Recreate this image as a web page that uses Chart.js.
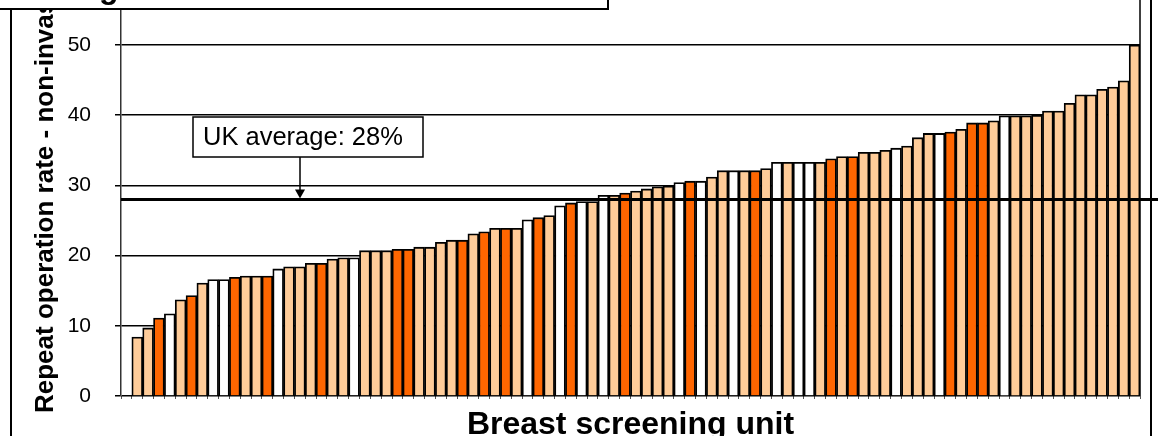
<!DOCTYPE html>
<html>
<head>
<meta charset="utf-8">
<script src="https://cdn.jsdelivr.net/npm/chart.js@4"></script>
<style>
  html, body { margin: 0; padding: 0; background: #fff; overflow: hidden; }
  #wrap { width: 1158px; height: 436px; position: relative; }
</style>
</head>
<body>
<div id="wrap"><canvas id="chart" width="1158" height="436"></canvas></div>
<script>
// Repeat operation rate (%) per breast screening unit, sorted ascending.
// The first category slot is empty in the source chart.
const units = ['', ...Array.from({ length: 93 }, (_, i) => 'Unit ' + (i + 1))];
const rates = [null,
  8.4, 9.7, 11.1, 11.7, 13.7, 14.3, 16.1, 16.6, 16.6, 16.9,
  17.1, 17.1, 17.1, 18.1, 18.4, 18.4, 18.9, 18.9, 19.5, 19.7,
  19.7, 20.7, 20.7, 20.7, 20.9, 20.9, 21.2, 21.2, 21.9, 22.2,
  22.2, 23.1, 23.4, 23.9, 23.9, 23.9, 25.1, 25.4, 25.7, 27.1,
  27.5, 27.7, 27.7, 28.6, 28.6, 28.9, 29.2, 29.5, 29.8, 29.9,
  30.4, 30.6, 30.6, 31.2, 32.1, 32.1, 32.1, 32.1, 32.4, 33.3,
  33.3, 33.3, 33.3, 33.3, 33.8, 34.1, 34.1, 34.7, 34.7, 35.0,
  35.3, 35.6, 36.8, 37.4, 37.4, 37.6, 38.0, 38.9, 38.9, 39.2,
  39.9, 39.9, 39.9, 40.0, 40.6, 40.6, 41.7, 42.9, 42.9, 43.7,
  44.0, 44.9, 50.0];
// L = light, D = dark, W = white shading of each unit's bar
const unitType = ['',
  'L','L','D','W','L','D','L','W','W','D',
  'L','L','D','W','L','L','L','D','L','L',
  'W','L','L','L','D','D','L','L','L','L',
  'D','L','D','L','D','L','W','D','L','W',
  'D','W','L','W','L','D','L','L','L','L',
  'W','D','W','L','L','W','L','D','L','W',
  'L','W','W','L','D','L','D','L','L','L',
  'W','L','L','L','W','D','L','D','D','L',
  'W','L','L','L','L','L','L','L','L','L',
  'L','L','L'];
const yTicks = [0, 10, 20, 30, 40, 50];
const ukAverage = 28;
const ukLabel = 'UK average: 28%';
const yTitle = 'Repeat operation rate - non-invasive';
const xTitle = 'Breast screening unit';

const colours = { L: '#FFCC99', D: '#FF6600', W: '#FFFFFF', '': 'rgba(0,0,0,0)' };
const FONT = '"Liberation Sans", Arial, sans-serif';

const overlay = {
  id: 'overlay',
  afterDraw(chart) {
    const { ctx, chartArea, scales } = chart;
    const yAvg = scales.y.getPixelForValue(ukAverage);
    ctx.save();

    // frame lines
    ctx.strokeStyle = '#000';
    ctx.lineWidth = 2;
    ctx.beginPath();
    ctx.moveTo(11, 9); ctx.lineTo(11, 436);
    ctx.moveTo(1151, 0); ctx.lineTo(1151, 436);
    ctx.stroke();
    ctx.lineWidth = 1.5;
    ctx.beginPath();
    ctx.moveTo(chartArea.right, 0); ctx.lineTo(chartArea.right, chartArea.bottom);
    ctx.stroke();

    // UK average line
    ctx.lineWidth = 3;
    ctx.beginPath();
    ctx.moveTo(chartArea.left, yAvg);
    ctx.lineTo(1158, yAvg);
    ctx.stroke();

    // annotation box + arrow
    ctx.fillStyle = '#fff';
    ctx.fillRect(193, 117, 230, 40);
    ctx.lineWidth = 1.5;
    ctx.strokeRect(193, 117, 230, 40);
    ctx.fillStyle = '#000';
    ctx.font = '25.5px ' + FONT;
    ctx.textAlign = 'left';
    ctx.textBaseline = 'middle';
    ctx.fillText(ukLabel, 203, 138);
    ctx.beginPath();
    ctx.moveTo(300, 157); ctx.lineTo(300, yAvg - 8);
    ctx.stroke();
    ctx.beginPath();
    ctx.moveTo(295, yAvg - 10); ctx.lineTo(305, yAvg - 10); ctx.lineTo(300, yAvg - 1);
    ctx.closePath();
    ctx.fill();

    // axis titles
    ctx.font = 'bold 32px ' + FONT;
    ctx.textAlign = 'center';
    ctx.textBaseline = 'alphabetic';
    ctx.fillText(xTitle, (chartArea.left + chartArea.right) / 2, 434);

    ctx.save();
    ctx.translate(53, 413);
    ctx.rotate(-Math.PI / 2);
    ctx.font = 'bold 26px ' + FONT;
    ctx.textAlign = 'left';
    ctx.fillText(yTitle, 0, 0);
    ctx.restore();

    // title box (mostly cut off at the top)
    ctx.fillStyle = '#fff';
    ctx.fillRect(-2, -2, 610, 11);
    ctx.lineWidth = 2;
    ctx.strokeRect(-2, -2, 610, 11);
    ctx.fillStyle = '#000';
    ctx.font = 'bold 32px ' + FONT;
    ctx.textAlign = 'left';
    ctx.fillText('g', 99, -2);
    ctx.restore();
  }
};

new Chart(document.getElementById('chart'), {
  type: 'bar',
  data: {
    labels: units,
    datasets: [{
      data: rates,
      backgroundColor: unitType.map(t => colours[t]),
      borderColor: '#000',
      borderWidth: 1.8,
      barPercentage: 1,
      categoryPercentage: 1
    }]
  },
  options: {
    responsive: false,
    animation: false,
    devicePixelRatio: 1,
    layout: { padding: { left: 0, right: 18, top: 0, bottom: 0 } },
    plugins: { legend: { display: false }, tooltip: { enabled: false } },
    scales: {
      x: {
        ticks: { display: false },
        grid: { display: true, drawOnChartArea: false, tickLength: 3, color: '#555' },
        border: { display: false },
        afterFit(scale) {
          scale.height = 40;
          scale.paddingLeft = 0;
          scale.paddingRight = 0;
        }
      },
      y: {
        min: 0,
        max: 56.41,
        afterBuildTicks(scale) {
          scale.ticks = yTicks.map(v => ({ value: v }));
        },
        ticks: {
          color: '#000',
          font: { family: FONT, size: 21 },
          padding: 24
        },
        grid: { color: '#000', lineWidth: 1.5, tickLength: 6 },
        border: { display: true, color: '#333', width: 1.5 },
        afterFit(scale) {
          scale.width = 121;
          scale.paddingTop = 0;
          scale.paddingBottom = 0;
        }
      }
    }
  },
  plugins: [overlay]
});
</script>
</body>
</html>
